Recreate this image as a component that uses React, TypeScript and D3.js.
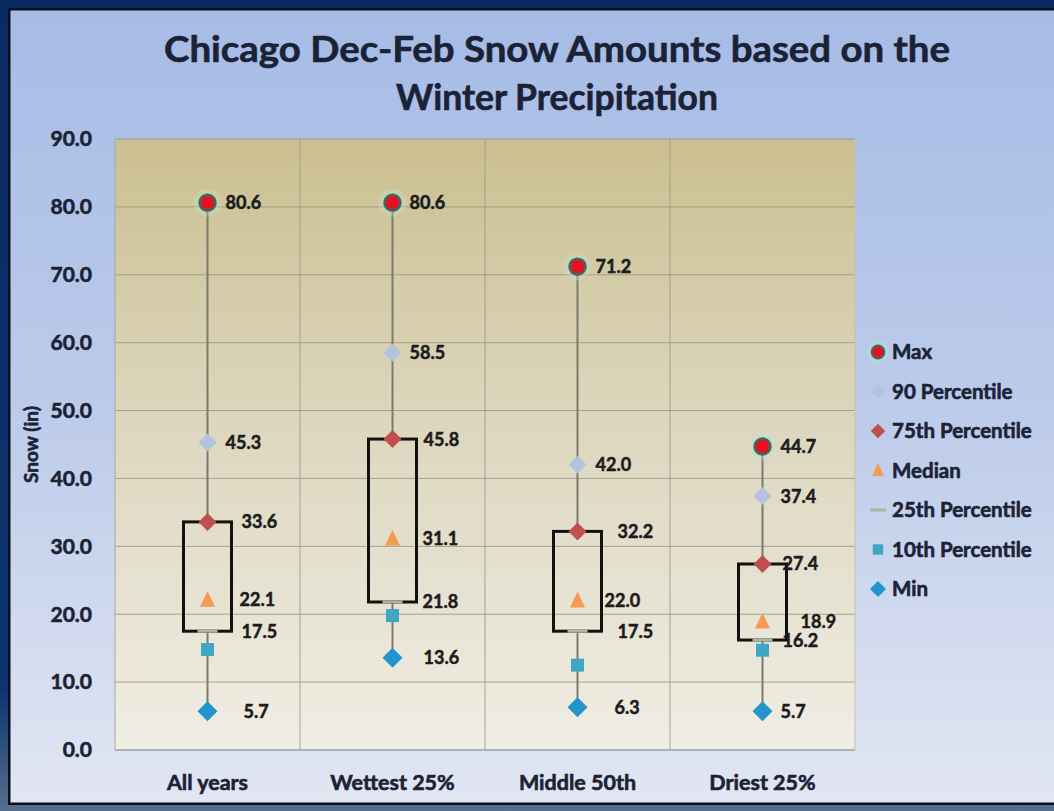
import React from "react";
import * as d3 from "d3";

const categories = ["All years", "Wettest 25%", "Middle 50th", "Driest 25%"];
const maxValues = [80.6, 80.6, 71.2, 44.7];
const p90Values = [45.3, 58.5, 42.0, 37.4];
const p75Values = [33.6, 45.8, 32.2, 27.4];
const medianValues = [22.1, 31.1, 22.0, 18.9];
const p25Values = [17.5, 21.8, 17.5, 16.2];
const p10Values = [14.8, 19.8, 12.5, 14.7];
const minValues = [5.7, 13.6, 6.3, 5.7];
const yTicks = [0, 10, 20, 30, 40, 50, 60, 70, 80, 90];
const legendLabels = ["Max", "90 Percentile", "75th Percentile", "Median", "25th Percentile", "10th Percentile", "Min"];

// label horizontal offsets (layout only), per category: [max, p90, p75, median, p25, min]
const labelDx = [
  [18, 18, 34, 32, 34, 36],
  [17, 17, 31, 30, 30, 31],
  [18, 18, 40, 27, 40, 37],
  [18, 18, 20, 38, 20, 18],
];

const W = 1054;
const H = 811;
const FONT = "Lato, 'Open Sans', sans-serif";
const TXT = "#1b2236";

function diamond(cx: number, cy: number, r: number) {
  return `M${cx},${cy - r}L${cx + r},${cy}L${cx},${cy + r}L${cx - r},${cy}Z`;
}
function triangle(cx: number, cy: number, s: number) {
  return `M${cx},${cy - s * 0.6}L${cx + s / 2},${cy + s * 0.45}L${cx - s / 2},${cy + s * 0.45}Z`;
}

function Marker({ kind, cx, cy, scale = 1 }: { kind: number; cx: number; cy: number; scale?: number }) {
  switch (kind) {
    case 0:
      return (
        <g>
          <circle cx={cx} cy={cy} r={14 * scale} fill="#bfe6c8" opacity={0.35} />
          <circle cx={cx} cy={cy} r={8 * scale} fill="#e8101f" stroke="#3a6b66" strokeWidth={2.5 * scale} />
        </g>
      );
    case 1:
      return <path d={diamond(cx, cy, 9 * scale)} fill="#b3c2de" />;
    case 2:
      return <path d={diamond(cx, cy, 9 * scale)} fill="#c0504d" />;
    case 3:
      return <path d={triangle(cx, cy, 15 * scale)} fill="#f59a55" />;
    case 4:
      return <line x1={cx - 10 * scale} x2={cx + 10 * scale} y1={cy} y2={cy} stroke="#a9b89c" strokeWidth={3} />;
    case 5:
      return <rect x={cx - 6.5 * scale} y={cy - 6.5 * scale} width={13 * scale} height={13 * scale} fill="#3fa7c4" />;
    default:
      return <path d={diamond(cx, cy, 10 * scale)} fill="#2296cc" />;
  }
}

export default function App() {
  const left = 115;
  const right = 855;
  const top = 139;
  const bottom = 750;

  const x = d3.scaleBand<string>().domain(categories).range([left, right]).paddingInner(0).paddingOuter(0);
  const y = d3.scaleLinear().domain([0, 90]).range([bottom, top]);
  const bw = x.bandwidth();
  const boxW = 48;

  const series = [maxValues, p90Values, p75Values, medianValues, p25Values, p10Values, minValues];
  const labelSeries = [maxValues, p90Values, p75Values, medianValues, p25Values, minValues];

  const heavy = { stroke: TXT, strokeWidth: 0.6, paintOrder: "stroke" } as any;

  return (
    <svg width={W} height={H} style={{ position: "absolute", left: 0, top: 0, display: "block" }}>
      <defs>
        <linearGradient id="outer" x1="0" y1="0" x2="0" y2="1">
          <stop offset="0" stopColor="#0b2a62" />
          <stop offset="0.85" stopColor="#0d3470" />
          <stop offset="1" stopColor="#56708c" />
        </linearGradient>
        <linearGradient id="panel" x1="0" y1="0" x2="0" y2="1">
          <stop offset="0" stopColor="#a6bce6" />
          <stop offset="0.5" stopColor="#bccbea" />
          <stop offset="1" stopColor="#e2e6f2" />
        </linearGradient>
        <linearGradient id="plot" x1="0" y1="0" x2="0" y2="1">
          <stop offset="0" stopColor="#cbbf90" />
          <stop offset="0.45" stopColor="#dcd6bd" />
          <stop offset="1" stopColor="#f0ede4" />
        </linearGradient>
      </defs>

      <rect x={0} y={0} width={W} height={H} fill="url(#outer)" />
      <rect x={8} y={8} width={W} height={797} fill="#0a0f1e" />
      <rect x={10.5} y={10.5} width={W} height={792} fill="url(#panel)" />

      {/* title */}
      <g fontFamily={FONT} fontWeight={700} fill={TXT} fontSize={36} textAnchor="middle" {...heavy}>
        <text x={557} y={62} textLength={786} lengthAdjust="spacingAndGlyphs">
          Chicago Dec-Feb Snow Amounts based on the
        </text>
        <text x={557} y={110} textLength={322} lengthAdjust="spacingAndGlyphs">
          Winter Precipitation
        </text>
      </g>

      {/* plot area */}
      <rect x={left} y={top} width={right - left} height={bottom - top} fill="url(#plot)" />
      {yTicks.map((t) => (
        <line key={t} x1={left} x2={right} y1={y(t)} y2={y(t)} stroke="#9c9886" strokeWidth={1} opacity={0.85} />
      ))}
      {categories.slice(1).map((c) => (
        <line key={c} x1={x(c)!} x2={x(c)!} y1={top} y2={bottom} stroke="#9c9886" strokeWidth={1} opacity={0.85} />
      ))}
      <line x1={left} x2={left} y1={top} y2={bottom} stroke="#a9a998" strokeWidth={1} />
      <line x1={right} x2={right} y1={top} y2={bottom} stroke="#c9c2a2" strokeWidth={1} />
      <line x1={left} x2={right} y1={bottom} y2={bottom} stroke="#a3acb8" strokeWidth={1.5} />

      {/* y axis labels */}
      <g fontFamily={FONT} fontWeight={700} fill={TXT} fontSize={21} textAnchor="end" {...heavy}>
        {yTicks.map((t) => (
          <text key={t} x={92} y={y(t)} dy="0.35em">
            {d3.format(".1f")(t)}
          </text>
        ))}
      </g>
      <text
        transform={`translate(38,${(top + bottom) / 2}) rotate(-90)`}
        fontFamily={FONT}
        fontWeight={700}
        fontSize={19}
        fill={TXT}
        textAnchor="middle"
        {...heavy}
      >
        Snow (in)
      </text>

      {/* x labels */}
      <g fontFamily={FONT} fontWeight={700} fill={TXT} fontSize={21.5} textAnchor="middle" {...heavy}>
        {categories.map((c) => (
          <text key={c} x={x(c)! + bw / 2} y={790}>
            {c}
          </text>
        ))}
      </g>

      {/* boxes and whiskers */}
      {categories.map((c, i) => {
        const cx = x(c)! + bw / 2;
        return (
          <g key={c}>
            <line x1={cx} x2={cx} y1={y(maxValues[i])} y2={y(p75Values[i])} stroke="#7b7a6c" strokeWidth={2} />
            <line x1={cx} x2={cx} y1={y(p25Values[i])} y2={y(minValues[i])} stroke="#7b7a6c" strokeWidth={2} />
            <rect
              x={cx - boxW / 2}
              y={y(p75Values[i])}
              width={boxW}
              height={y(p25Values[i]) - y(p75Values[i])}
              fill="none"
              stroke="#111"
              strokeWidth={3}
            />
          </g>
        );
      })}

      {/* markers */}
      {categories.map((c, i) => {
        const cx = x(c)! + bw / 2;
        const order = [4, 5, 6, 3, 2, 1, 0];
        return (
          <g key={c}>
            {order.map((k) => (
              <Marker key={k} kind={k} cx={cx} cy={y(series[k][i])} />
            ))}
          </g>
        );
      })}

      {/* data labels */}
      <g fontFamily={FONT} fontWeight={700} fill="#1c1c1c" fontSize={18} stroke="#1c1c1c" strokeWidth={0.5}>
        {categories.map((c, i) => {
          const cx = x(c)! + bw / 2;
          return labelSeries.map((s, k) => (
            <text key={`${c}-${k}`} x={cx + labelDx[i][k]} y={y(s[i])} dy="0.36em">
              {d3.format(".1f")(s[i])}
            </text>
          ));
        })}
      </g>

      {/* legend */}
      {legendLabels.map((l, k) => {
        const ly = 352 + k * 39.5;
        return (
          <g key={l}>
            <Marker kind={k} cx={878} cy={ly} scale={0.8} />
            <text
              x={892}
              y={ly}
              dy="0.36em"
              fontFamily={FONT}
              fontWeight={700}
              fontSize={20.5}
              fill={TXT}
              {...heavy}
            >
              {l}
            </text>
          </g>
        );
      })}
    </svg>
  );
}
